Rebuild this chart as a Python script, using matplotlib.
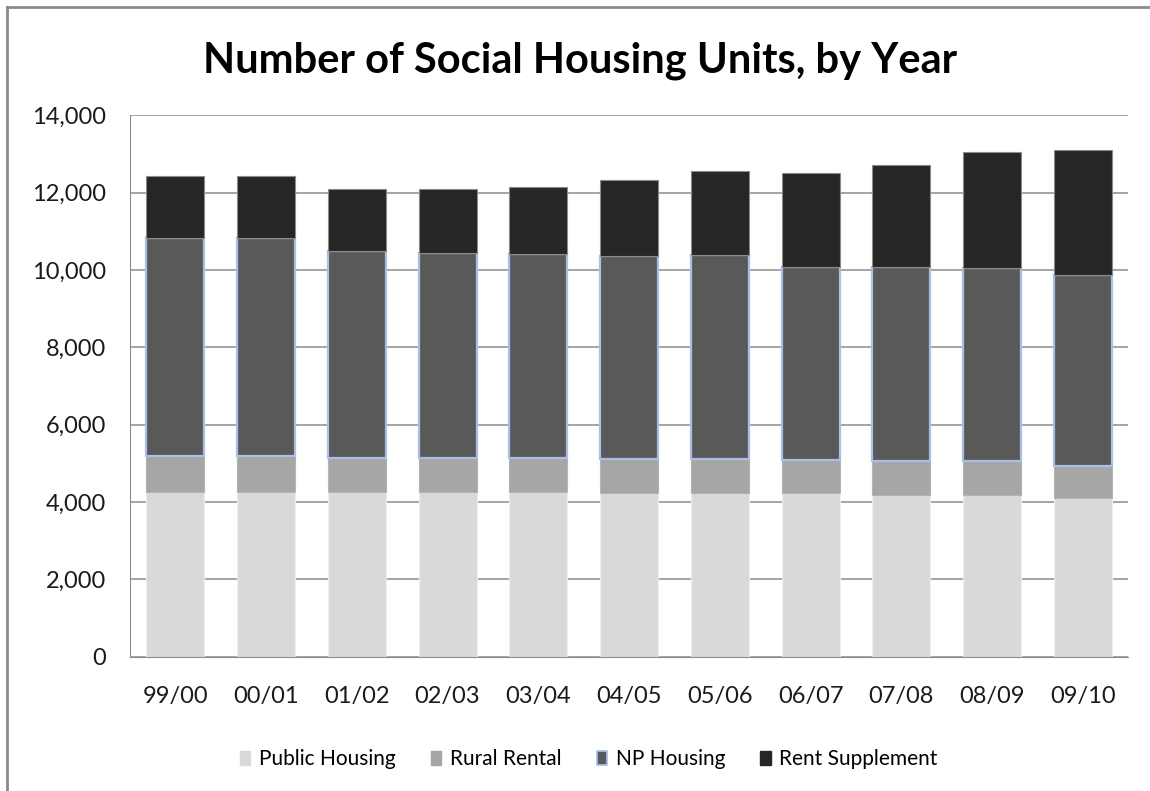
import matplotlib.pyplot as plt
import numpy as np
from matplotlib.lines import Line2D
from matplotlib.patches import Patch
from matplotlib.ticker import FuncFormatter

plt.rcParams['font.family'] = ['Lato', 'DejaVu Sans']

# 数据（各年度累计高度读取后换算为各类数量）
years = ['99/00', '00/01', '01/02', '02/03', '03/04', '04/05',
         '05/06', '06/07', '07/08', '08/09', '09/10']
public_housing = [4255, 4255, 4255, 4255, 4255, 4222, 4222, 4222, 4189, 4189, 4094]
rural_rental = [925, 925, 895, 895, 895, 888, 878, 858, 881, 861, 836]
np_housing = [5640, 5640, 5333, 5299, 5255, 5261, 5280, 5006, 5016, 5010, 4940]
rent_supplement = [1615, 1615, 1626, 1655, 1745, 1960, 2176, 2437, 2639, 2996, 3248]

fig = plt.figure(figsize=(11.5, 7.91), dpi=100)
ax = fig.add_axes([0.113, 0.17, 0.868, 0.684])

x = np.arange(len(years))
w = 0.64
b1 = np.array(public_housing)
b2 = b1 + np.array(rural_rental)
b3 = b2 + np.array(np_housing)

ax.bar(x, public_housing, w, color='#d9d9d9', edgecolor='#eeeeee', linewidth=0.8, zorder=2)
ax.bar(x, rural_rental, w, bottom=b1, color='#a6a6a6', edgecolor='#b4b4b4', linewidth=0.8, zorder=2)
ax.bar(x, np_housing, w, bottom=b2, color='#595959', edgecolor='#a9bfe6', linewidth=1.6, zorder=2)
ax.bar(x, rent_supplement, w, bottom=b3, color='#262626', edgecolor='#8a8a8a', linewidth=0.8, zorder=2)

ax.set_xlim(-0.5, len(years) - 0.5)
ax.set_ylim(0, 14000)
ax.set_yticks(np.arange(0, 14001, 2000))
ax.yaxis.set_major_formatter(FuncFormatter(lambda v, p: f'{int(v):,}'))
ax.set_xticks(x)
ax.set_xticklabels(years)
ax.grid(axis='y', color='#8c8c8c', linewidth=1.1, zorder=0)
ax.tick_params(axis='both', length=0, labelsize=17, colors='#1a1a1a')
ax.tick_params(axis='x', pad=21)
ax.tick_params(axis='y', pad=17)
for s in ['top', 'right']:
    ax.spines[s].set_visible(False)
ax.spines['left'].set_color('#8c8c8c')
ax.spines['bottom'].set_color('#8c8c8c')

fig.suptitle('Number of Social Housing Units, by Year', x=0.504, y=0.948,
             fontsize=30, fontweight='bold')

handles = [Patch(facecolor='#d9d9d9', edgecolor='#d9d9d9'),
           Patch(facecolor='#a6a6a6', edgecolor='#a6a6a6'),
           Patch(facecolor='#595959', edgecolor='#a9bfe6', linewidth=1.2),
           Patch(facecolor='#262626', edgecolor='#262626')]
fig.legend(handles, ['Public Housing', 'Rural Rental', 'NP Housing', 'Rent Supplement'],
           loc='center', bbox_to_anchor=(0.512, 0.04), ncol=4, frameon=False,
           fontsize=15, handlelength=0.5, handleheight=0.7, handletextpad=0.4,
           columnspacing=1.7)

# 外框（只有上边和左边）
fig.add_artist(Line2D([0.0061, 0.0061], [0, 0.991], color='#8a8a8a', linewidth=2,
                      transform=fig.transFigure))
fig.add_artist(Line2D([0.0061, 1], [0.991, 0.991], color='#8a8a8a', linewidth=2,
                      transform=fig.transFigure))

fig.savefig('out.png', dpi=100)
